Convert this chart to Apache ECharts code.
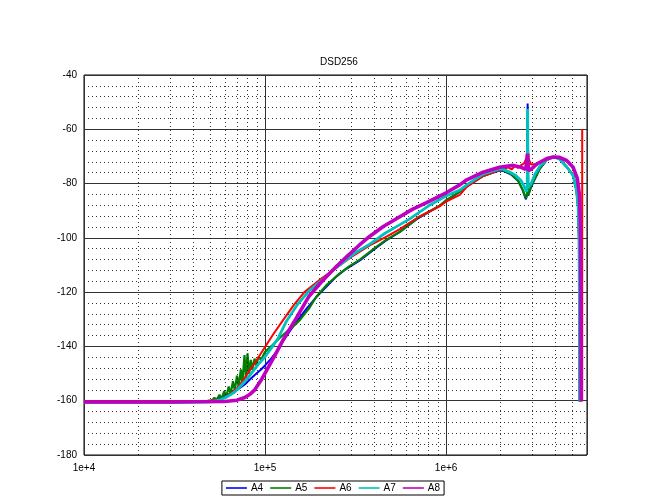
<!DOCTYPE html>
<html><head><meta charset="utf-8">
<script src="https://cdn.jsdelivr.net/npm/echarts@6/dist/echarts.min.js"></script>
<style>html,body{margin:0;padding:0;background:#fff}#c{width:666px;height:500px}</style>
</head><body><div id="c"></div>
<script>
const TITLE = 'DSD256';
const SERIES_NAMES = ['A4', 'A5', 'A6', 'A7', 'A8'];

const A4_FREQ = [1e4, 3e4, 4.5e4, 5.0e4, 5.27e4, 5.7e4, 6.25e4, 7.0e4, 7.73e4, 8.3e4, 8.77e4, 9.4e4, 1.0e5, 1.08e5, 1.17e5, 1.26e5, 1.35e5, 1.45e5, 1.55e5, 1.7e5, 1.92e5, 2.18e5, 2.48e5, 2.8e5, 3.34e5, 4.0e5, 4.6e5, 5.55e5, 7.0e5, 9.2e5, 1.0e6, 1.19e6, 1.3e6, 1.6e6, 1.97e6, 2.1e6, 2.3e6, 2.5e6, 2.65e6, 2.76e6, 2.8e6, 2.82e6, 2.84e6, 2.92e6, 3.03e6, 3.3e6, 3.6e6, 3.9e6, 4.2e6, 4.63e6, 5.03e6, 5.25e6, 5.36e6, 5.42e6, 5.45e6, 5.47e6];
const A4_DB = [-160.4, -160.4, -160.3, -160.0, -159.5, -158.8, -157.8, -156.0, -154.0, -152.0, -150.5, -148.8, -147.0, -144.5, -141.5, -138.0, -135.0, -132.0, -129.5, -126.0, -121.8, -118.0, -114.2, -111.5, -108.3, -104.3, -101.2, -97.8, -92.8, -88.2, -86.4, -83.0, -81.0, -77.2, -75.2, -75.5, -76.8, -79.0, -82.5, -85.8, -84.0, -50.5, -84.5, -82.0, -79.5, -74.5, -71.3, -70.3, -70.8, -73.8, -77.0, -82.5, -88.5, -100, -125, -160.2];

const A5_FREQ = [1e4, 3e4, 4.6e4, 4.9e4, 5.05e4, 5.25e4, 5.4e4, 5.6e4, 5.75e4, 5.95e4, 6.1e4, 6.3e4, 6.45e4, 6.65e4, 6.8e4, 7.0e4, 7.15e4, 7.35e4, 7.5e4, 7.7e4, 7.85e4, 8.0e4, 8.15e4, 8.35e4, 8.5e4, 8.75e4, 8.95e4, 9.2e4, 9.5e4, 1.0e5, 1.1e5, 1.2e5, 1.32e5, 1.42e5, 1.555e5, 1.75e5, 1.92e5, 2.2e5, 2.59e5, 2.9e5, 3.34e5, 4.0e5, 4.6e5, 5.55e5, 7.0e5, 9.2e5, 1.0e6, 1.19e6, 1.3e6, 1.6e6, 1.97e6, 2.1e6, 2.3e6, 2.5e6, 2.65e6, 2.76e6, 2.8e6, 2.82e6, 2.84e6, 2.92e6, 3.03e6, 3.3e6, 3.6e6, 3.9e6, 4.2e6, 4.63e6, 5.03e6, 5.25e6, 5.36e6, 5.42e6, 5.45e6, 5.47e6];
const A5_DB = [-160.6, -160.6, -160.4, -159.9, -160.2, -158.9, -159.8, -157.8, -159.3, -156.5, -158.6, -154.8, -157.6, -152.8, -156.3, -150.8, -155.0, -148.5, -153.6, -143.2, -151.8, -142.5, -150.0, -145.0, -148.6, -144.5, -147.0, -143.8, -145.0, -142.0, -139.5, -137.0, -134.5, -132.8, -130.3, -126.0, -121.7, -117.2, -113.1, -110.6, -108.0, -104.0, -101.0, -97.8, -92.6, -88.2, -86.1, -83.0, -81.0, -77.2, -75.0, -75.3, -76.6, -79.0, -82.3, -85.4, -84.0, -56.0, -84.3, -81.8, -79.3, -74.3, -71.2, -70.3, -70.8, -73.8, -77.0, -82.5, -88.5, -100, -125, -160.4];

const A6_FREQ = [1e4, 3e4, 4.8e4, 5.5e4, 5.98e4, 6.5e4, 7.1e4, 7.6e4, 8.2e4, 8.8e4, 9.5e4, 1.0e5, 1.11e5, 1.258e5, 1.45e5, 1.65e5, 2.0e5, 2.48e5, 3.0e5, 3.79e5, 4.6e5, 5.55e5, 7.0e5, 9.2e5, 1.0e6, 1.19e6, 1.3e6, 1.6e6, 1.97e6, 2.1e6, 2.2e6, 2.3e6, 2.4e6, 2.5e6, 2.6e6, 2.7e6, 2.78e6, 2.82e6, 2.86e6, 2.95e6, 3.1e6, 3.3e6, 3.6e6, 3.9e6, 4.2e6, 4.63e6, 5.03e6, 5.25e6, 5.36e6, 5.42e6, 5.45e6, 5.47e6, 5.6448e6, 5.6448e6];
const A6_DB = [-160.2, -160.2, -160.1, -159.7, -159.0, -157.3, -155.0, -152.3, -149.0, -146.0, -142.5, -140.2, -135.5, -130.3, -124.5, -120.0, -115.5, -111.0, -107.0, -102.8, -99.8, -96.8, -92.4, -88.4, -86.6, -84.2, -81.2, -77.2, -75.0, -74.6, -74.0, -74.8, -73.5, -74.2, -73.2, -72.5, -70.5, -65.5, -71.0, -73.0, -72.8, -72.3, -71.0, -70.3, -70.8, -73.8, -77.0, -82.5, -88.5, -100, -125, -160, -160, -60];

const A7_FREQ = [1e4, 3e4, 5e4, 5.6e4, 6.2e4, 6.8e4, 7.4e4, 8.0e4, 8.5e4, 9.2e4, 1.0e5, 1.1e5, 1.18e5, 1.31e5, 1.5e5, 1.75e5, 2.09e5, 2.4e5, 2.7e5, 3.2e5, 3.79e5, 4.6e5, 5.5e5, 6.3e5, 8e5, 1.0e6, 1.19e6, 1.3e6, 1.6e6, 1.97e6, 2.06e6, 2.2e6, 2.4e6, 2.6e6, 2.72e6, 2.78e6, 2.805e6, 2.82e6, 2.835e6, 2.88e6, 2.95e6, 3.1e6, 3.3e6, 3.6e6, 3.9e6, 4.2e6, 4.63e6, 5.03e6, 5.25e6, 5.36e6, 5.42e6, 5.45e6, 5.47e6];
const A7_DB = [-160.6, -160.6, -160.4, -159.8, -158.5, -156.8, -154.3, -151.8, -149.5, -146.5, -143.8, -140.0, -137.0, -130.8, -124.8, -119.5, -115.2, -111.6, -109.0, -105.2, -102.3, -98.3, -95.3, -93.0, -88.2, -84.6, -82.4, -80.5, -76.5, -74.6, -74.7, -75.5, -76.8, -79.0, -81.5, -83.0, -81.5, -52.5, -81.5, -82.0, -80.0, -76.5, -73.5, -71.0, -70.2, -70.8, -73.8, -77.0, -82.5, -88.5, -100, -125, -160.4];

const A8_FREQ = [1e4, 3e4, 6e4, 7e4, 7.73e4, 8.3e4, 8.77e4, 9.5e4, 1.02e5, 1.13e5, 1.26e5, 1.49e5, 1.75e5, 2.0e5, 2.18e5, 2.5e5, 2.82e5, 3.3e5, 3.79e5, 4.5e5, 5.55e5, 6.5e5, 7.8e5, 1.0e6, 1.19e6, 1.3e6, 1.6e6, 1.97e6, 2.35e6, 2.6e6, 2.75e6, 2.8e6, 2.82e6, 2.85e6, 2.95e6, 3.2e6, 3.6e6, 3.9e6, 4.2e6, 4.63e6, 5.03e6, 5.3e6, 5.45e6, 5.52e6, 5.55e6, 5.57e6];
const A8_DB = [-160.5, -160.5, -160.3, -159.8, -158.8, -157.5, -156.0, -152.5, -148.8, -143.5, -137.5, -129.5, -121.5, -117.0, -114.3, -110.3, -107.0, -102.8, -99.4, -95.8, -92.2, -89.5, -87.0, -83.4, -80.5, -78.6, -75.8, -74.0, -73.3, -74.0, -74.8, -75.5, -69.0, -75.2, -74.7, -72.6, -70.8, -70.2, -70.3, -71.5, -74.0, -78.0, -84.0, -95, -120, -160.2];

const X_MIN = 1e4, X_MAX = 6e6;
const Y_MIN = -180, Y_MAX = -40, Y_STEP = 20;
const X_MINOR_GRID = [2e4, 3e4, 4e4, 5e4, 6e4, 7e4, 8e4, 9e4, 2e5, 3e5, 4e5, 5e5, 6e5, 7e5, 8e5, 9e5, 2e6, 3e6, 4e6, 5e6];

const FREQS = [A4_FREQ, A5_FREQ, A6_FREQ, A7_FREQ, A8_FREQ];
const DBS = [A4_DB, A5_DB, A6_DB, A7_DB, A8_DB];
const COLORS = ['#0000ff', '#008000', '#ff0000', '#00c0c0', '#c000c0'];
const WIDTHS = [2, 2.2, 2, 2.8, 3.6];

const FONT = 'Liberation Sans, Arial, sans-serif';

const series = [{
  name: '_grid', type: 'line', data: [], z: 1, silent: true,
  markLine: {
    silent: true, symbol: ['none', 'none'], animation: false,
    label: { show: false },
    lineStyle: { type: [1, 3], color: '#000', width: 1, opacity: 0.8 },
    emphasis: { disabled: true },
    data: X_MINOR_GRID.map(v => ({ xAxis: v }))
  }
}];
SERIES_NAMES.forEach((n, i) => {
  series.push({
    name: n, type: 'line', symbol: 'none', showSymbol: false, smooth: false,
    sampling: null, animation: false, z: 3 + i,
    lineStyle: { color: COLORS[i], width: WIDTHS[i] },
    itemStyle: { color: COLORS[i] },
    emphasis: { disabled: true },
    data: FREQS[i].map((f, k) => [f, DBS[i][k]])
  });
});

const chart = echarts.init(document.getElementById('c'), null, { renderer: 'canvas' });
chart.setOption({
  animation: false,
  backgroundColor: '#fff',
  textStyle: { fontFamily: FONT },
  title: {
    text: TITLE, left: 315, top: 52,
    textStyle: { fontSize: 10, fontWeight: 'normal', color: '#000', fontFamily: FONT }
  },
  grid: {
    left: 84, right: 79, top: 75, bottom: 45,
    show: true, borderColor: '#000', borderWidth: 1, backgroundColor: 'transparent'
  },
  legend: {
    data: SERIES_NAMES.map(n => ({ name: n, icon: 'rect' })),
    left: 'center', top: 481,
    itemWidth: 21, itemHeight: 1.6, itemGap: 7,
    padding: [2, 4], borderColor: '#000', borderWidth: 1,
    textStyle: { fontSize: 10, color: '#000', fontFamily: FONT, padding: [0, 0, 0, -1] }
  },
  xAxis: {
    type: 'log', logBase: 10, min: X_MIN, max: X_MAX,
    axisLine: { show: false },
    axisTick: { show: false },
    axisLabel: {
      color: '#000', fontSize: 10, fontFamily: FONT, margin: 8,
      showMaxLabel: false,
      formatter: v => {
        const e = Math.round(Math.log10(v));
        return Math.abs(v - Math.pow(10, e)) / v < 1e-6 ? '1e+' + e : '';
      }
    },
    splitLine: { show: true, lineStyle: { color: '#333', width: 1 } }
  },
  yAxis: {
    type: 'value', min: Y_MIN, max: Y_MAX, interval: Y_STEP,
    axisLine: { show: false },
    axisTick: { show: false },
    axisLabel: { color: '#000', fontSize: 10, fontFamily: FONT, margin: 7 },
    splitLine: { show: true, lineStyle: { color: '#333', width: 1 } },
    minorTick: { show: false, splitNumber: 5 },
    minorSplitLine: { show: true, lineStyle: { type: [1, 3], color: '#000', width: 1, opacity: 0.8 } }
  },
  series: series
});
</script>
</body></html>
